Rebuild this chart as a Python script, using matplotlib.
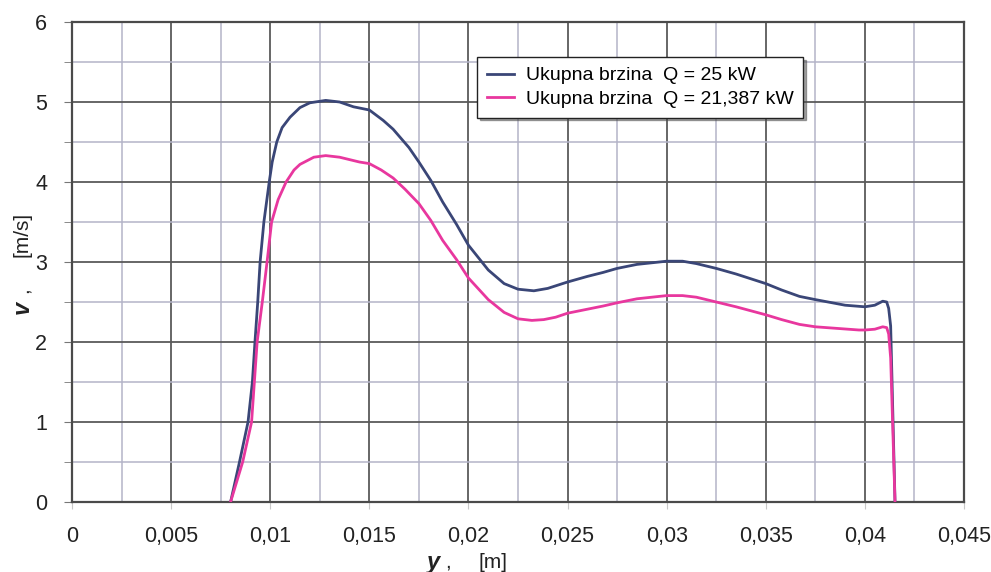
import numpy as np
import matplotlib
matplotlib.use("Agg")
import matplotlib.pyplot as plt
from matplotlib.ticker import FuncFormatter, MultipleLocator

plt.rcParams["font.family"] = ["Liberation Sans", "DejaVu Sans"]

# ------------------------------------------------------------------ #
#  Data
# ------------------------------------------------------------------ #
y_q25 = [0.0080, 0.00845, 0.00888, 0.0091, 0.00923, 0.00937, 0.00949, 0.00968,
         0.00995, 0.0101, 0.01033, 0.0106, 0.0110, 0.0115, 0.0120, 0.0128,
         0.0135, 0.0142, 0.0150, 0.0157, 0.0162, 0.0170, 0.0175, 0.0181,
         0.0187, 0.0194, 0.0200, 0.0210, 0.0218, 0.0225, 0.0233, 0.0240,
         0.0250, 0.0260, 0.0268, 0.0275, 0.0285, 0.0300, 0.0308, 0.0315,
         0.0325, 0.0335, 0.0350, 0.0358, 0.0367, 0.0375, 0.0390, 0.0400,
         0.0405, 0.0409, 0.0411, 0.0412, 0.0413, 0.04152]
v_q25 = [0.0, 0.5, 1.0, 1.5, 2.0, 2.5, 3.0, 3.5,
         4.0, 4.25, 4.5, 4.68, 4.81, 4.93, 4.99, 5.02,
         5.0, 4.94, 4.90, 4.77, 4.66, 4.43, 4.25, 4.02,
         3.75, 3.47, 3.21, 2.90, 2.73, 2.66, 2.64, 2.67,
         2.75, 2.82, 2.87, 2.92, 2.97, 3.01, 3.01, 2.98,
         2.92, 2.85, 2.73, 2.65, 2.57, 2.53, 2.46, 2.44,
         2.46, 2.51, 2.50, 2.42, 2.2, 0.0]

y_q21 = [0.0080, 0.00861, 0.00906, 0.0092, 0.00934, 0.0096, 0.00984, 0.01007,
         0.0104, 0.0108, 0.0112, 0.0115, 0.0122, 0.0128, 0.0135, 0.0145,
         0.0150, 0.0156, 0.0162, 0.0168, 0.0175, 0.0181, 0.0187, 0.0194,
         0.0200, 0.0210, 0.0218, 0.0225, 0.0232, 0.0238, 0.0244, 0.0250,
         0.0260, 0.0268, 0.0275, 0.0285, 0.0300, 0.0308, 0.0315, 0.0325,
         0.0335, 0.0350, 0.0358, 0.0367, 0.0375, 0.0397, 0.0400, 0.0405,
         0.0409, 0.0411, 0.0412, 0.0413, 0.04152]
v_q21 = [0.0, 0.5, 1.0, 1.5, 2.0, 2.5, 3.0, 3.5,
         3.78, 4.0, 4.15, 4.22, 4.31, 4.33, 4.31, 4.25,
         4.23, 4.15, 4.05, 3.91, 3.73, 3.52, 3.27, 3.03,
         2.80, 2.53, 2.37, 2.29, 2.27, 2.28, 2.31, 2.36,
         2.41, 2.45, 2.49, 2.54, 2.58, 2.58, 2.56, 2.50,
         2.44, 2.34, 2.28, 2.22, 2.19, 2.15, 2.15, 2.16,
         2.19, 2.18, 2.1, 1.8, 0.0]

labels = ["Ukupna brzina  Q = 25 kW", "Ukupna brzina  Q = 21,387 kW"]
colors = ["#3a4677", "#e8379e"]

W, H = 991, 572
fig = plt.figure(figsize=(W / 100, H / 100), dpi=100)
ax = fig.add_axes([72 / W, 1 - 502 / H, (964 - 72) / W, (502 - 22) / H])

ax.plot(y_q25, v_q25, color=colors[0], linewidth=2.0, label=labels[0], zorder=3)
ax.plot(y_q21, v_q21, color=colors[1], linewidth=2.0, label=labels[1], zorder=4)

ax.set_xlim(0, 0.045)
ax.set_ylim(0, 6)
ax.xaxis.set_major_locator(MultipleLocator(0.005))
ax.xaxis.set_minor_locator(MultipleLocator(0.0025))
ax.yaxis.set_major_locator(MultipleLocator(1))
ax.yaxis.set_minor_locator(MultipleLocator(0.5))

ax.xaxis.set_major_formatter(FuncFormatter(lambda v, p: ("%g" % round(v, 4)).replace(".", ",")))
ax.yaxis.set_major_formatter(FuncFormatter(lambda v, p: "%d" % v))

ax.grid(which="major", color="#5a5a5a", linewidth=1.3)
ax.grid(which="minor", color="#b4b4c8", linewidth=1.1)
ax.set_axisbelow(True)

for s in ax.spines.values():
    s.set_color("#4a4a4a")
    s.set_linewidth(1.6)

ax.tick_params(axis="x", which="major", length=5, color="#c8c8c8", pad=12,
               labelsize=15.5, labelcolor="#222222")
ax.tick_params(axis="x", which="minor", length=0)
ax.tick_params(axis="y", which="both", length=6, color="#777777", pad=12,
               labelsize=15.5, labelcolor="#222222")

leg = ax.legend(loc="upper left", bbox_to_anchor=(0.454, 0.927), fontsize=14,
                frameon=True, fancybox=False, shadow=True, handlelength=1.4,
                borderpad=0.5, labelspacing=0.3, handletextpad=0.6,
                borderaxespad=0)
leg.get_frame().set_edgecolor("#222222")
leg.get_frame().set_linewidth(1.0)

# axis labels (bold italic symbol + plain unit)
fig.text(22 / W, 1 - 307 / H, "v", rotation=90, ha="center", va="center",
         fontsize=17, fontweight="bold", fontstyle="italic", color="#222222")
fig.text(22 / W, 1 - 290 / H, ",", rotation=90, ha="center", va="center",
         fontsize=15, color="#222222")
fig.text(22 / W, 1 - 234 / H, "[m/s]", rotation=90, ha="center", va="center",
         fontsize=15, color="#222222")

fig.text(434 / W, 1 - 562 / H, "y", ha="center", va="center",
         fontsize=17, fontweight="bold", fontstyle="italic", color="#222222")
fig.text(448 / W, 1 - 562 / H, ",", ha="center", va="center",
         fontsize=15, color="#222222")
fig.text(493 / W, 1 - 562 / H, "[m]", ha="center", va="center",
         fontsize=15, color="#222222")

fig.savefig("out.png", dpi=100)
plt.close(fig)
